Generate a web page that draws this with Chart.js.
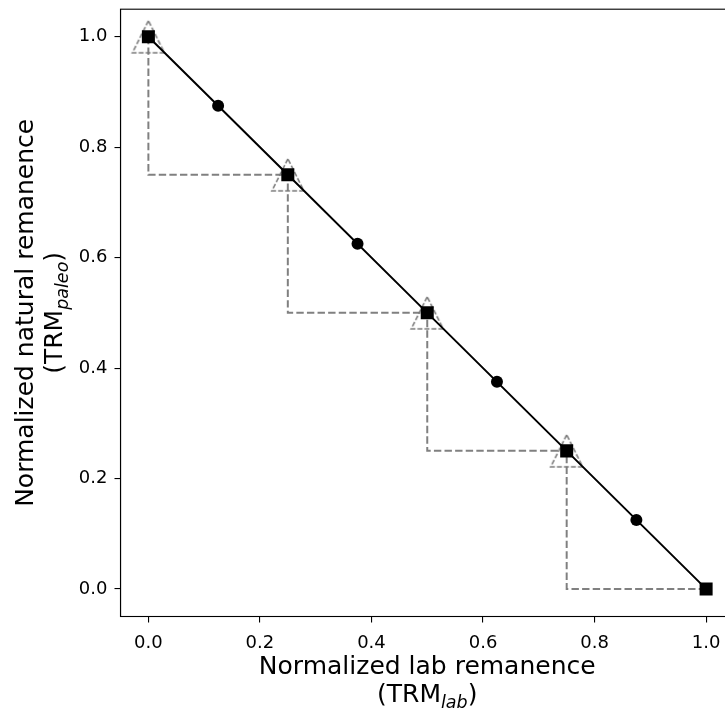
<!DOCTYPE html>
<html>
<head>
<meta charset="utf-8">
<script src="https://cdn.jsdelivr.net/npm/chart.js@4.4.0/dist/chart.umd.min.js"></script>
<style>
html, body { margin: 0; padding: 0; overflow: hidden; background: #fff; }
#wrap { width: 725px; height: 711px; overflow: hidden; }
</style>
</head>
<body>
<div id="wrap"><canvas id="mycanvas" width="760" height="711"></canvas></div>
<script>
// lab steps (squares) and the mid points (circles)
var labX = [0, 0.25, 0.5, 0.75, 1.0];
var natY = [1.0, 0.75, 0.5, 0.25, 0.0];
var midX = [0.125, 0.375, 0.625, 0.875];
var midY = [0.875, 0.625, 0.375, 0.125];
// dashed staircase and the pTRM check triangles
var stepX = [0, 0, 0.25, 0.25, 0.5, 0.5, 0.75, 0.75, 1.0];
var stepY = [1.0, 0.75, 0.75, 0.5, 0.5, 0.25, 0.25, 0.0, 0.0];
var checkX = [0, 0.25, 0.5, 0.75];
var checkY = [1.0, 0.75, 0.5, 0.25];
var tickVals = [0, 0.2, 0.4, 0.6, 0.8, 1.0];

function pts(xs, ys) {
	var out = [];
	for (var i in xs) {
		out.push({x: xs[i], y: ys[i]});
	}
	return out;
}

// hollow dashed triangle used as point style
var tri = document.createElement('canvas');
tri.width = 36;
tri.height = 36;
var tc = tri.getContext('2d');
tc.strokeStyle = '#7a7a7a';
tc.lineWidth = 1.6;
tc.setLineDash([5, 2]);
tc.beginPath();
tc.moveTo(18, 2);
tc.lineTo(2, 34);
tc.lineTo(34, 34);
tc.closePath();
tc.stroke();

var boxPlugin = {
	id: 'box',
	afterDraw: function(chart) {
		var ctx = chart.ctx, a = chart.chartArea;
		ctx.save();
		ctx.strokeStyle = '#000';
		ctx.lineWidth = 1.1;
		ctx.strokeRect(a.left, a.top, a.right - a.left, a.bottom - a.top);
		ctx.restore();
	}
};

function subLabel(ctx, pre, sub, post, x, y) {
	var big = '25px "DejaVu Sans"';
	var small = 'italic 17.5px "DejaVu Sans"';
	ctx.font = big;
	var w1 = ctx.measureText(pre).width;
	var w3 = ctx.measureText(post).width;
	ctx.font = small;
	var w2 = ctx.measureText(sub).width;
	var start = x - (w1 + w2 + w3) / 2;
	ctx.textAlign = 'left';
	ctx.font = big;
	ctx.fillText(pre, start, y);
	ctx.font = small;
	ctx.fillText(sub, start + w1, y + 6);
	ctx.font = big;
	ctx.fillText(post, start + w1 + w2, y);
}

var titlePlugin = {
	id: 'titles',
	afterDraw: function(chart) {
		var ctx = chart.ctx, a = chart.chartArea;
		var cx = (a.left + a.right) / 2;
		var cy = (a.top + a.bottom) / 2;
		ctx.save();
		ctx.fillStyle = '#000';
		ctx.textBaseline = 'alphabetic';
		ctx.textAlign = 'center';
		ctx.font = '25px "DejaVu Sans"';
		ctx.fillText('Normalized lab remanence', cx, 674);
		subLabel(ctx, '(TRM', 'lab', ')', cx, 702);

		ctx.translate(33, cy);
		ctx.rotate(-Math.PI / 2);
		ctx.textAlign = 'center';
		ctx.font = '25px "DejaVu Sans"';
		ctx.fillText('Normalized natural remanence', 0, 0);
		ctx.restore();

		ctx.save();
		ctx.fillStyle = '#000';
		ctx.translate(62, cy);
		ctx.rotate(-Math.PI / 2);
		subLabel(ctx, '(TRM', 'paleo', ')', 0, 0);
		ctx.restore();
	}
};

var tickFont = {family: 'DejaVu Sans', size: 18};

var ctx = document.getElementById('mycanvas');
var chart = new Chart(ctx, {
	type: 'scatter',
	data: {
		datasets: [
		{
			label: 'mid',
			data: pts(midX, midY),
			showLine: false,
			pointStyle: 'circle',
			pointRadius: 6,
			backgroundColor: '#000',
			borderColor: '#000',
			borderWidth: 0,
			order: 0
		},
		{
			label: 'steps',
			data: pts(labX, natY),
			showLine: true,
			borderColor: '#000',
			borderWidth: 2,
			pointStyle: 'rect',
			pointRadius: 9.2,
			pointBackgroundColor: '#000',
			pointBorderWidth: 0,
			order: 1
		},
		{
			label: 'checks',
			data: pts(checkX, checkY),
			showLine: false,
			pointStyle: tri,
			order: 2
		},
		{
			label: 'stair',
			data: pts(stepX, stepY),
			showLine: true,
			borderColor: '#808080',
			borderWidth: 2,
			borderDash: [7.4, 3.2],
			pointRadius: 0,
			order: 3
		}
		]
	},
	options: {
		responsive: false,
		animation: false,
		devicePixelRatio: 1,
		layout: {padding: {top: 7.5, right: 26, left: 0, bottom: 0}},
		plugins: {legend: {display: false}, tooltip: {enabled: false}},
		scales: {
			x: {
				type: 'linear',
				min: -0.05,
				max: 1.05,
				afterBuildTicks: function(s) { s.ticks = tickVals.map(function(v){ return {value: v}; }); },
				afterFit: function(s) { s.height = 94.5; s.paddingLeft = 0; s.paddingRight = 0; },
				grid: {drawOnChartArea: false, drawTicks: true, tickLength: 6, color: '#000', lineWidth: 1.1},
				border: {display: true, color: '#000', width: 1.1},
				ticks: {color: '#000', font: tickFont, padding: 10, maxRotation: 0,
					callback: function(v){ return v.toFixed(1); }}
			},
			y: {
				type: 'linear',
				min: -0.05,
				max: 1.05,
				afterBuildTicks: function(s) { s.ticks = tickVals.map(function(v){ return {value: v}; }); },
				afterFit: function(s) { s.width = 120.5; s.paddingTop = 0; s.paddingBottom = 0; },
				grid: {drawOnChartArea: false, drawTicks: true, tickLength: 6, color: '#000', lineWidth: 1.1},
				border: {display: true, color: '#000', width: 1.1},
				ticks: {color: '#000', font: tickFont, padding: 7,
					callback: function(v){ return v.toFixed(1); }}
			}
		}
	},
	plugins: [boxPlugin, titlePlugin]
});
</script>
</body>
</html>
